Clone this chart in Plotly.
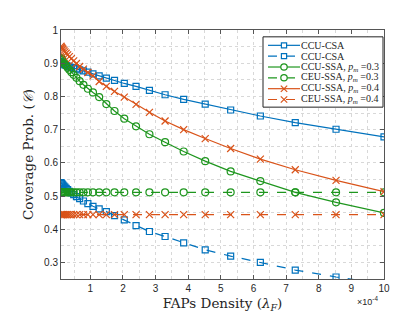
import plotly.graph_objects as go

# FAP density in units of 1e-4
x_density = [0.100, 0.117, 0.137, 0.161, 0.189, 0.221, 0.259, 0.304, 0.356, 0.418,
             0.489, 0.574, 0.672, 0.788, 0.924, 1.08, 1.27, 1.49, 1.74, 2.04,
             2.40, 2.81, 3.29, 3.86, 4.52, 5.30, 6.21, 7.28, 8.53, 10.0]

ccu_csa = [0.905, 0.903, 0.901, 0.899, 0.897, 0.895, 0.893, 0.891, 0.889, 0.887,
           0.885, 0.883, 0.880, 0.877, 0.873, 0.868, 0.862, 0.855, 0.848, 0.839,
           0.830, 0.818, 0.805, 0.791, 0.777, 0.759, 0.741, 0.721, 0.701, 0.678]

ceu_csa = [0.540, 0.538, 0.536, 0.533, 0.530, 0.527, 0.523, 0.519, 0.514, 0.509,
           0.504, 0.498, 0.492, 0.485, 0.477, 0.469, 0.461, 0.453, 0.441, 0.428,
           0.411, 0.393, 0.378, 0.359, 0.338, 0.319, 0.300, 0.277, 0.256, 0.235]

ccu_ssa_03 = [0.916, 0.913, 0.910, 0.906, 0.902, 0.897, 0.892, 0.886, 0.880, 0.873,
              0.865, 0.856, 0.846, 0.835, 0.823, 0.812, 0.798, 0.777, 0.756, 0.733,
              0.710, 0.686, 0.662, 0.634, 0.605, 0.574, 0.545, 0.511, 0.481, 0.449]

ceu_ssa_03 = [0.511] * 30

ccu_ssa_04 = [0.951, 0.948, 0.945, 0.942, 0.938, 0.934, 0.930, 0.925, 0.920, 0.914,
              0.907, 0.899, 0.890, 0.882, 0.872, 0.862, 0.845, 0.830, 0.815, 0.798,
              0.776, 0.752, 0.726, 0.700, 0.673, 0.643, 0.611, 0.579, 0.547, 0.513]

ceu_ssa_04 = [0.444] * 30

y_ticks = [0.3, 0.4, 0.5, 0.6, 0.7, 0.8, 0.9, 1.0]
y_tick_text = ["0.3", "0.4", "0.5", "0.6", "0.7", "0.8", "0.9", "1"]
x_ticks = [1, 2, 3, 4, 5, 6, 7, 8, 9, 10]

BLUE = "#0072BD"
ORANGE = "#D95319"
GREEN = "#1E961E"

pm = "<i>p</i><sub><i>m</i></sub>"
series = [
    ("CCU-CSA", ccu_csa, BLUE, "solid", "square-open", 6),
    ("CCU-CSA", ceu_csa, BLUE, "dash", "square-open", 6),
    ("CCU-SSA, " + pm + " =0.3", ccu_ssa_03, GREEN, "solid", "circle-open", 7),
    ("CEU-SSA, " + pm + " =0.3", ceu_ssa_03, GREEN, "dash", "circle-open", 7),
    ("CCU-SSA, " + pm + " =0.4", ccu_ssa_04, ORANGE, "solid", "x-thin-open", 7),
    ("CEU-SSA, " + pm + " =0.4", ceu_ssa_04, ORANGE, "dash", "x-thin-open", 7),
]

W, H = 415, 312
ML, MR, MT, MB = 53, 39, 22, 35
PW, PH = W - ML - MR, H - MT - MB

fig = go.Figure()
for name, ys, color, dash, sym, size in series:
    fig.add_trace(go.Scatter(
        x=x_density, y=ys, name=name, mode="lines+markers",
        line=dict(color=color, width=1.2, dash=dash),
        marker=dict(symbol=sym, size=size, color=color,
                    line=dict(color=color, width=1.2)),
        showlegend=False,
    ))

axis_common = dict(
    showline=True, linecolor="#555555", linewidth=1, mirror="allticks",
    ticks="inside", ticklen=4, tickcolor="#555555",
    showgrid=True, gridcolor="#D8D8D8", griddash="dot", gridwidth=1,
    zeroline=False,
    tickfont=dict(family="Liberation Sans, Arial", size=10, color="#262626"),
)

fig.update_xaxes(
    range=[0.1, 10], tickvals=x_ticks,
    minor=dict(dtick=0.5, showgrid=True, gridcolor="#D8D8D8", griddash="dot", ticks=""),
    title=dict(text="FAPs Density (<i>λ</i><sub><i>F</i></sub>)",
               font=dict(family="DejaVu Serif, Liberation Serif", size=13.5, color="#262626"),
               standoff=5),
    **axis_common,
)
fig.update_yaxes(
    range=[0.25, 1.0], tickvals=y_ticks, ticktext=y_tick_text,
    minor=dict(dtick=0.05, showgrid=True, gridcolor="#D8D8D8", griddash="dot", ticks=""),
    title=dict(text="Coverage Prob. (<i>𝒞</i>)",
               font=dict(family="DejaVu Serif, Liberation Serif", size=13.5, color="#262626"),
               standoff=7),
    **axis_common,
)

fig.add_annotation(
    xref="paper", yref="paper", x=(372 - ML) / PW, y=(H - MB - 300) / PH,
    xanchor="right", yanchor="middle",
    text="×10<sup>-4</sup>", showarrow=False,
    font=dict(family="Liberation Sans, Arial", size=9, color="#262626"),
)


# ---- compact legend box (MATLAB style) drawn in pixel-based paper coords ----
def px(xp):
    return (xp - ML) / PW


def py(yp):
    return (H - MB - yp) / PH


shapes = []
annotations = []
shapes.append(dict(type="rect", xref="paper", yref="paper",
                   x0=px(255), x1=px(375), y0=py(29), y1=py(101),
                   fillcolor="white", line=dict(color="#222222", width=1), layer="above"))
row_y = [37.7, 48.8, 59.9, 71.0, 82.1, 93.2]
for (name, ys, color, dash, sym, size), ry in zip(series, row_y):
    shapes.append(dict(type="line", xref="paper", yref="paper",
                       x0=px(260), x1=px(292), y0=py(ry), y1=py(ry),
                       line=dict(color=color, width=1.2, dash=dash), layer="above"))
    cx = 276
    if sym.startswith("square"):
        r = 2.6
        shapes.append(dict(type="rect", xref="paper", yref="paper",
                           x0=px(cx - r), x1=px(cx + r), y0=py(ry + r), y1=py(ry - r),
                           fillcolor="white", line=dict(color=color, width=1.2), layer="above"))
    elif sym.startswith("circle"):
        r = 3.2
        shapes.append(dict(type="circle", xref="paper", yref="paper",
                           x0=px(cx - r), x1=px(cx + r), y0=py(ry + r), y1=py(ry - r),
                           fillcolor="white", line=dict(color=color, width=1.2), layer="above"))
    else:
        r = 3.2
        for s in (1, -1):
            shapes.append(dict(type="line", xref="paper", yref="paper",
                               x0=px(cx - r), x1=px(cx + r), y0=py(ry - s * r), y1=py(ry + s * r),
                               line=dict(color=color, width=1.2), layer="above"))
    annotations.append(dict(xref="paper", yref="paper", x=px(292), y=py(ry),
                            xanchor="left", yanchor="middle", text=name, showarrow=False,
                            borderpad=0,
                            font=dict(family="Liberation Serif, Times New Roman", size=10,
                                      color="#262626")))

for s in shapes:
    fig.add_shape(**s)
for a in annotations:
    fig.add_annotation(**a)

fig.update_layout(
    width=W, height=H,
    margin=dict(l=ML, r=MR, t=MT, b=MB),
    paper_bgcolor="white", plot_bgcolor="white",
    showlegend=False,
)

fig.write_html("out.html")
